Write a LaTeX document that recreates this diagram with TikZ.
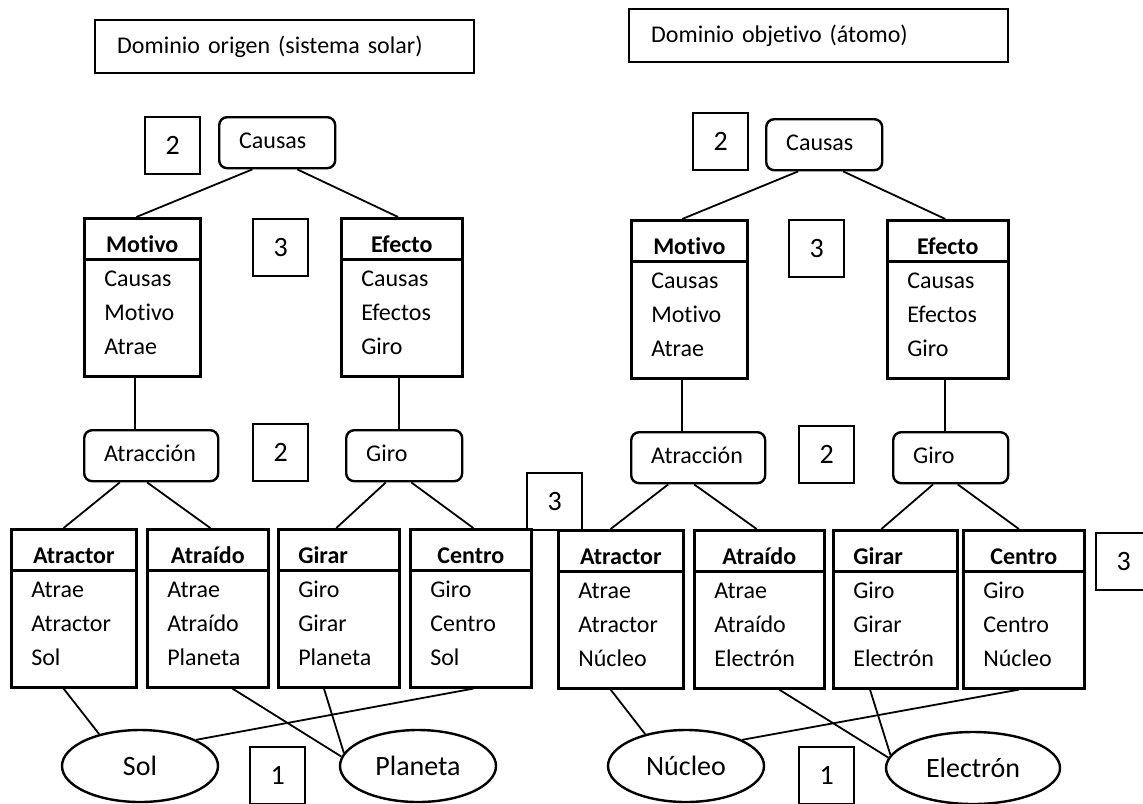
\documentclass[tikz,border=0pt]{standalone}
\usepackage{fontspec}
\setmainfont{Carlito}[Ligatures={NoCommon}]
\usetikzlibrary{shapes.geometric,calc}

\begin{document}
\begin{tikzpicture}[x=0.5pt, y=-0.5pt,
    titulo/.style={draw, line width=1.2pt, anchor=north west, minimum height=26.5pt,
        inner xsep=11pt, text width=167.5pt, align=left, font=\fontsize{12pt}{14pt}\selectfont},
    redondo/.style={draw, line width=1.2pt, rounded corners=4pt, anchor=north west, minimum height=25.5pt,
        inner xsep=10pt, text height=8.5pt, text depth=2.5pt, align=left, font=\fontsize{12pt}{14pt}\selectfont},
    clase/.style={draw, line width=1.3pt, anchor=north west, inner xsep=10pt, inner ysep=0pt,
        text height=17pt, text depth=62pt, align=left, font=\fontsize{12pt}{17pt}\selectfont,
        path picture={\draw[line width=1.2pt] ([yshift=-20.5pt]path picture bounding box.north west)
            -- ([yshift=-20.5pt]path picture bounding box.north east);}},
    numero/.style={draw, line width=1.2pt, anchor=north west, minimum width=27.5pt, minimum height=28.5pt,
        inner sep=0pt, font=\fontsize{14pt}{17pt}\selectfont},
    entidad/.style={draw, line width=1.2pt, ellipse, inner sep=0pt, minimum width=78pt, minimum height=36pt,
        font=\fontsize{14pt}{17pt}\selectfont},
    enlace/.style={line width=0.9pt}
]
\useasboundingbox (0,0) rectangle (1143,803);

\node[titulo] (tituloOri) at (94,19) {Dominio origen (sistema solar)};
\node[titulo] (tituloObj) at (628,8) {Dominio objetivo (átomo)};

% dominio origen
\node[numero] (n2Ori) at (144,116) {2};
\node[redondo, text width=38pt] (causasOri) at (218,116) {Causas};
\node[clase, text width=38pt] (motivoOri) at (83,217) {\makebox[\linewidth]{\textbf{Motivo}}\\Causas\\Motivo\\Atrae};
\node[numero] (n3Ori) at (252,218) {3};
\node[clase, text width=40.5pt] (efectoOri) at (340,217) {\makebox[\linewidth]{\textbf{Efecto}}\\Causas\\Efectos\\Giro};
\node[redondo, text width=47pt] (atraccionOri) at (83,429) {Atracción};
\node[numero] (n2bOri) at (252,423) {2};
\node[redondo, text width=38pt] (giroOri) at (345,429) {Giro};
\node[numero] (n3bOri) at (526,472) {3};
\node[clase, text width=42.5pt] (atractorOri) at (10,528) {\makebox[\linewidth]{\textbf{Atractor}}\\Atrae\\Atractor\\Sol};
\node[clase, text width=40.5pt] (atraidoOri) at (146,528) {\makebox[\linewidth]{\textbf{Atraído}}\\Atrae\\Atraído\\Planeta};
\node[clase, text width=40.5pt] (girarOri) at (277,528) {\textbf{Girar}\\Giro\\Girar\\Planeta};
\node[clase, text width=40.5pt] (centroOri) at (409,528) {\makebox[\linewidth]{\textbf{Centro}}\\Giro\\Centro\\Sol};
\node[entidad] (sol) at (140,766) {Sol};
\node[numero] (n1Ori) at (249,746) {1};
\node[entidad] (planeta) at (418,766) {Planeta};

% dominio objetivo
\node[numero] (n2Obj) at (692,112) {2};
\node[redondo, text width=38pt] (causasObj) at (765,118) {Causas};
\node[clase, text width=38pt] (motivoObj) at (630,219) {\makebox[\linewidth]{\textbf{Motivo}}\\Causas\\Motivo\\Atrae};
\node[numero] (n3Obj) at (788,219) {3};
\node[clase, text width=40.5pt] (efectoObj) at (886,219) {\makebox[\linewidth]{\textbf{Efecto}}\\Causas\\Efectos\\Giro};
\node[redondo, text width=47pt] (atraccionObj) at (630,431) {Atracción};
\node[numero] (n2bObj) at (798,425) {2};
\node[redondo, text width=37.5pt] (giroObj) at (892,431) {Giro};
\node[clase, text width=42.5pt] (atractorObj) at (557,529) {\makebox[\linewidth]{\textbf{Atractor}}\\Atrae\\Atractor\\Núcleo};
\node[clase, text width=45pt] (atraidoObj) at (693,529) {\makebox[\linewidth]{\textbf{Atraído}}\\Atrae\\Atraído\\Electrón};
\node[clase, text width=42pt] (girarObj) at (832,529) {\textbf{Girar}\\Giro\\Girar\\Electrón};
\node[clase, text width=40.5pt] (centroObj) at (962,529) {\makebox[\linewidth]{\textbf{Centro}}\\Giro\\Centro\\Núcleo};
\node[numero] (n3bObj) at (1095,532) {3};
\node[entidad] (nucleo) at (686,766) {Núcleo};
\node[numero] (n1Obj) at (798,746) {1};
\node[entidad, minimum width=87pt] (electron) at (973,768) {Electrón};

% enlaces origen
\draw[enlace] ($(causasOri.south west)!.29!(causasOri.south east)$) -- ($(motivoOri.north west)!.45!(motivoOri.north east)$);
\draw[enlace] ($(causasOri.south west)!.67!(causasOri.south east)$) -- ($(efectoOri.north west)!.47!(efectoOri.north east)$);
\draw[enlace] ($(motivoOri.south west)!.44!(motivoOri.south east)$) coordinate (mOri) -- (mOri |- atraccionOri.north);
\draw[enlace] ($(efectoOri.south west)!.48!(efectoOri.south east)$) coordinate (eOri) -- (eOri |- giroOri.north);
\draw[enlace] ($(atraccionOri.south west)!.27!(atraccionOri.south east)$) -- ($(atractorOri.north west)!.42!(atractorOri.north east)$);
\draw[enlace] ($(atraccionOri.south west)!.47!(atraccionOri.south east)$) -- ($(atraidoOri.north west)!.52!(atraidoOri.north east)$);
\draw[enlace] ($(giroOri.south west)!.345!(giroOri.south east)$) -- ($(girarOri.north west)!.48!(girarOri.north east)$);
\draw[enlace] ($(giroOri.south west)!.56!(giroOri.south east)$) -- ($(centroOri.north west)!.52!(centroOri.north east)$);
\draw[enlace] ($(atractorOri.south west)!.42!(atractorOri.south east)$) -- (sol.142);
\draw[enlace] ($(atraidoOri.south west)!.70!(atraidoOri.south east)$) -- (planeta.173);
\draw[enlace] ($(girarOri.south west)!.38!(girarOri.south east)$) -- (planeta.170);
\draw[enlace] ($(centroOri.south west)!.52!(centroOri.south east)$) -- (sol.25);

% enlaces objetivo
\draw[enlace] ($(causasObj.south west)!.28!(causasObj.south east)$) -- ($(motivoObj.north west)!.44!(motivoObj.north east)$);
\draw[enlace] ($(causasObj.south west)!.66!(causasObj.south east)$) -- ($(efectoObj.north west)!.48!(efectoObj.north east)$);
\draw[enlace] ($(motivoObj.south west)!.44!(motivoObj.south east)$) coordinate (mObj) -- (mObj |- atraccionObj.north);
\draw[enlace] ($(efectoObj.south west)!.48!(efectoObj.south east)$) coordinate (eObj) -- (eObj |- giroObj.north);
\draw[enlace] ($(atraccionObj.south west)!.28!(atraccionObj.south east)$) -- ($(atractorObj.north west)!.42!(atractorObj.north east)$);
\draw[enlace] ($(atraccionObj.south west)!.47!(atraccionObj.south east)$) -- ($(atraidoObj.north west)!.48!(atraidoObj.north east)$);
\draw[enlace] ($(giroObj.south west)!.35!(giroObj.south east)$) -- ($(girarObj.north west)!.39!(girarObj.north east)$);
\draw[enlace] ($(giroObj.south west)!.56!(giroObj.south east)$) -- ($(centroObj.north west)!.46!(centroObj.north east)$);
\draw[enlace] ($(atractorObj.south west)!.42!(atractorObj.south east)$) -- (nucleo.142);
\draw[enlace] ($(atraidoObj.south west)!.65!(atraidoObj.south east)$) -- (electron.173);
\draw[enlace] ($(girarObj.south west)!.30!(girarObj.south east)$) -- (electron.171);
\draw[enlace] ($(centroObj.south west)!.46!(centroObj.south east)$) -- (nucleo.25);
\end{tikzpicture}
\end{document}
